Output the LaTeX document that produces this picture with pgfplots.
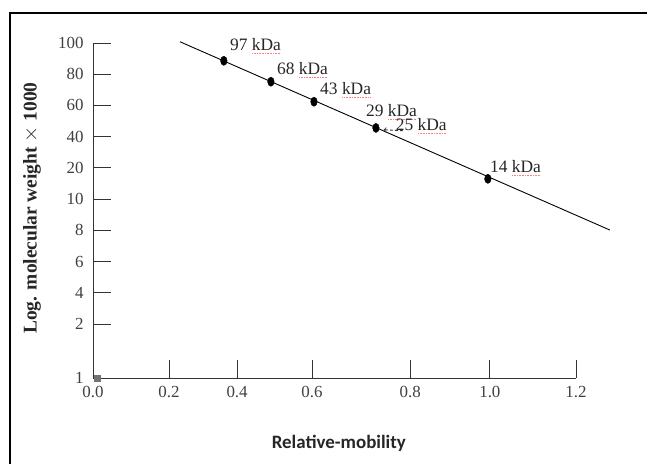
\documentclass[border=0pt]{standalone}
\usepackage{pgfplots}
\pgfplotsset{compat=1.18}
\usepackage{fontspec}
\setmainfont{Liberation Serif}
\newfontfamily\calibri{Carlito}
\newsavebox\kbox
\newcommand\kda{\sbox\kbox{kDa}\rlap{\color{red!50}\raisebox{-3.4bp}{\hbox to \wd\kbox{\leaders\hbox to 1.6bp{\hss\rule{0.9bp}{0.8bp}\hss}\hfill}}}\usebox\kbox}
\begin{document}
\begin{tikzpicture}
\path[use as bounding box] (0,0) rectangle (647bp,464bp);
\draw[line width=1.8bp] (10bp,0) -- (10bp,451bp) -- (647bp,451bp);
\begin{axis}[
  at={(93bp,86bp)}, anchor=south west,
  scale only axis, width=483bp, height=335bp,
  xmin=0, xmax=1.2, ymin=0, ymax=10.73,
  clip=false,
  axis x line*=bottom, axis y line*=left,
  axis line style={-, black!80, line width=0.9bp},
  xtick={0,0.189,0.358,0.544,0.788,0.986,1.2},
  xticklabels={0.0,0.2,0.4,0.6,0.8,1.0,1.2},
  ytick={0,1.73,2.73,3.73,4.73,5.73,6.73,7.73,8.73,9.73,10.73},
  yticklabels={1,2,4,6,8,10,20,40,60,80,100},
  tick align=inside, major tick length=18bp,
  tick style={black!80, line width=0.9bp},
  ticklabel style={font=\fontsize{17}{19}\selectfont, text=black!75},
  xticklabel style={yshift=-5bp},
  yticklabel style={xshift=-6bp},
  xlabel={\calibri\bfseries Relative-mobility},
  xlabel style={at={(axis description cs:0.509,-0.194)}, anchor=center, font=\fontsize{19}{21}\selectfont, text=black!85},
  ylabel={\bfseries Log. molecular weight $\times$ 1000},
  ylabel style={at={(axis description cs:-0.126,0.507)}, anchor=center, rotate=0, font=\fontsize{19.5}{21}\selectfont, text=black!85},
]
\addplot[black, line width=0.9bp, no marks] coordinates {(0.216,10.77) (1.284,4.74)};
\addplot[only marks, mark=*, mark size=4.6bp, mark options={xscale=0.72, fill=black, draw=black}]
  coordinates {(0.325,10.16) (0.442,9.49) (0.549,8.85) (0.703,8.01) (0.981,6.38)};
\addplot[only marks, mark=square*, mark size=3bp, mark options={fill=black!55, draw=black!55}]
  coordinates {(0.01,0)};
\draw[densely dashed, black!80, line width=0.9bp, ->] (axis cs:0.77,7.92) -- (axis cs:0.722,7.95);
\begin{scope}[every node/.style={font=\fontsize{17.5}{19}\selectfont, anchor=base west, inner sep=0pt, text=black!85}]
\node at (axis cs:0.340,10.48) {97 \kda};
\node at (axis cs:0.457,9.71) {68 \kda};
\node at (axis cs:0.564,9.07) {43 \kda};
\node at (axis cs:0.678,8.37) {29 \kda};
\node at (axis cs:0.752,7.93) {25 \kda};
\node at (axis cs:0.986,6.57) {14 \kda};
\end{scope}
\end{axis}
\end{tikzpicture}
\end{document}
